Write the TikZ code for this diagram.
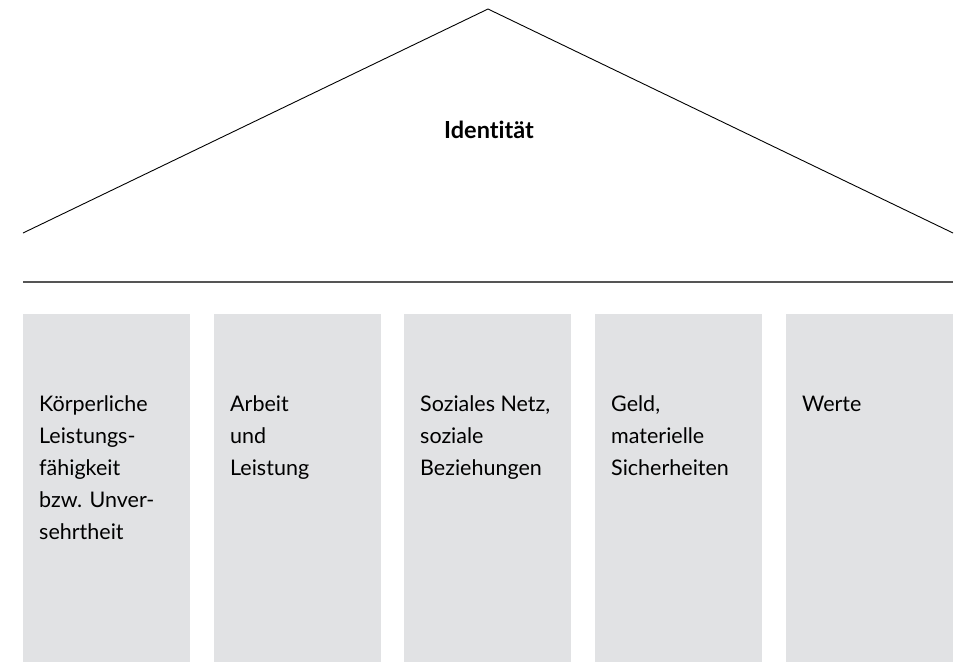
\documentclass[tikz,border=0pt]{standalone}
\usepackage{fontspec}
\setmainfont[Ligatures=NoCommon]{Lato}
\definecolor{colgray}{HTML}{E1E2E4}
\definecolor{linegray}{HTML}{555555}
\newcommand{\firstline}{\rule{0pt}{17pt}}
\tikzset{
  pillar/.style={fill=colgray, draw=none, minimum width=167pt, minimum height=348pt, inner sep=0pt, anchor=north west},
  pillartext/.style={anchor=north west, inner sep=0pt, align=left, font=\fontsize{21.5}{32}\selectfont},
  roof/.style={draw=black, line width=0.9pt},
}
\begin{document}
\begin{tikzpicture}[x=1pt, y=-1pt]
\useasboundingbox (0,0) rectangle (960,662);
\coordinate (rl) at (23,233);
\coordinate (apex) at (488,9);
\coordinate (rr) at (953,233);
\draw[roof] (rl) -- (apex) -- (rr);
\node[font=\fontsize{23.5}{28}\selectfont\bfseries, anchor=base] (id) at (489,138) {Identität};
\coordinate (bl) at (23,282);
\coordinate (br) at (953,282);
\draw[draw=linegray, line width=1.6pt] (bl) -- (br);
\node[pillar] (p1) at (23,314) {};
\node[pillar] (p2) at (214,314) {};
\node[pillar] (p3) at (404,314) {};
\node[pillar] (p4) at (595,314) {};
\node[pillar] (p5) at (786,314) {};
\node[pillartext] (t1) at (39,394.7) {\firstline Körperliche\\Leistungs-\\fähigkeit\\bzw. Unver-\\sehrtheit};
\node[pillartext] (t2) at (230,394.7) {\firstline Arbeit\\und\\Leistung};
\node[pillartext] (t3) at (420,394.7) {\firstline Soziales Netz,\\soziale\\Beziehungen};
\node[pillartext] (t4) at (611,394.7) {\firstline Geld,\\materielle\\Sicherheiten};
\node[pillartext] (t5) at (802,394.7) {\firstline Werte};
\end{tikzpicture}
\end{document}
